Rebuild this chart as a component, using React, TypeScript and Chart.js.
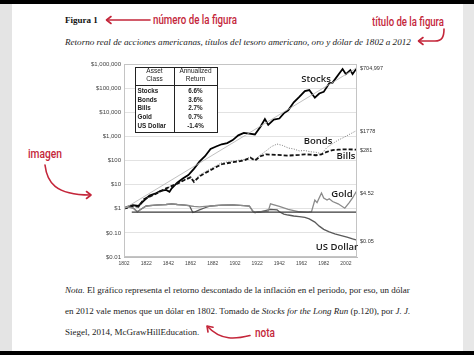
import React, { useEffect, useLayoutEffect, useRef } from 'react';
import { Chart, registerables } from 'chart.js';

Chart.register(...registerables);

// ---------- data ----------
const stockYears = [1802,1805,1810,1815,1820,1825,1830,1835,1840,1843,1845,1850,1855,1860,1865,1870,1875,1880,1885,1890,1895,1900,1905,1910,1915,1920,1925,1929,1932,1937,1942,1946,1950,1955,1960,1965,1969,1974,1978,1982,1987,1990,1995,1999,2002,2006,2008,2012];
const stockValues = [1,1.2,1.4,1.3,2.2,3.5,4.2,5.5,6,5,7,12,18,25,45,90,150,300,380,470,530,700,1100,1400,1300,1200,2500,5200,3000,5000,5500,9000,12000,26000,43000,75000,83000,40000,60000,70000,160000,170000,350000,620000,380000,560000,380000,704997];

const trendYears = [1802, 2012];
const trendValues = [1, 704997];

const fixedYears = [1809, 2012];
const fixedValues = [0.72, 0.72];

const bondBillYears = [1802,1810,1815,1820,1830,1840,1850,1857,1862,1865,1870,1880,1890,1900,1910,1916,1920,1925,1930,1935,1940,1945,1950,1955,1960,1965,1970,1975,1980,1985,1990,1995,2000,2005,2012];
const bondValues = [1,1.3,1.2,2.5,4,7,11,16,22,14,25,45,80,95,110,140,110,170,250,380,480,420,330,300,250,260,230,220,190,350,500,700,900,1200,1778];
const billValues = [1,1.3,1.2,2.5,4,7,11,16,20,13,22,40,70,85,100,130,100,150,180,175,170,165,160,165,170,180,175,165,180,230,270,280,290,290,281];

const goldYears = [1802,1805,1810,1814,1818,1822,1830,1840,1845,1850,1857,1862,1865,1870,1875,1880,1890,1900,1910,1915,1918,1920,1925,1932,1934,1942,1950,1960,1968,1971,1974,1976,1980,1982,1985,1987,1990,1995,2001,2005,2008,2011,2012];
const goldValues = [1.1,1.2,1.1,0.75,1.0,1.3,1.4,1.5,1.6,1.5,1.4,1.3,1.25,1.2,1.25,1.3,1.4,1.45,1.35,1.3,0.8,0.7,0.75,0.8,1.6,1.25,0.95,0.75,0.72,0.75,2.3,1.8,4.5,2.8,2.3,2.6,2.0,1.6,1.05,1.8,2.8,4.9,4.52];

const dollarYears = [1802,1805,1810,1814,1818,1822,1830,1840,1845,1850,1857,1861,1864,1866,1870,1875,1880,1890,1900,1910,1915,1918,1920,1925,1932,1934,1940,1942,1946,1950,1955,1960,1965,1969,1974,1978,1982,1987,1992,1997,2003,2008,2012];
const dollarValues = [1.1,1.2,1.1,0.75,1.0,1.3,1.4,1.5,1.6,1.5,1.4,1.35,0.7,0.75,0.9,1.1,1.3,1.4,1.45,1.35,1.3,0.8,0.7,0.75,0.9,0.95,0.9,0.75,0.6,0.55,0.5,0.47,0.44,0.38,0.28,0.19,0.14,0.11,0.09,0.078,0.066,0.056,0.05];

const xTicks = [1802,1822,1842,1862,1882,1902,1922,1942,1962,1982,2002];
const yTicks = [0.01,0.1,1,10,100,1000,10000,100000,1000000];
const yTickLabels = ['$0.01','$0.10','$1','$10','$100','$1,000','$10,000','$100,000','$1,000,000'];

const endLabels = ['$704,997','$1778','$281','$4.52','$0.05'];
const endValues = [704997, 1778, 281, 4.52, 0.05];

const tableHeader = [['Asset', 'Class'], ['Annualized', 'Return']];
const tableAssets = ['Stocks','Bonds','Bills','Gold','US Dollar'];
const tableReturns = ['6.6%','3.6%','2.7%','0.7%','-1.4%'];

const RED = '#c4263a';

function pts(xs: number[], ys: number[]) {
  return xs.map((x, i) => ({ x, y: ys[i] }));
}

const overlayPlugin = {
  id: 'overlay',
  afterDatasetsDraw(chart: any) {
    const { ctx, chartArea: a, scales } = chart;
    ctx.save();
    ctx.strokeStyle = '#c4c4c4';
    ctx.lineWidth = 1;
    ctx.strokeRect(a.left + 0.5, a.top + 0.5, a.right - a.left - 1, a.bottom - a.top - 1);

    ctx.fillStyle = '#333';
    ctx.font = '5.5px "Liberation Sans", Arial, sans-serif';
    ctx.textAlign = 'left';
    ctx.textBaseline = 'middle';
    endLabels.forEach((t, i) => {
      const y = scales.y.getPixelForValue(endValues[i]);
      ctx.fillText(t, a.right + 3, y + 1);
    });

    ctx.fillStyle = '#1a1a1a';
    ctx.font = '600 9.5px "Open Sans", sans-serif';
    ctx.textAlign = 'center';
    const names: [string, number, number][] = [
      ['Stocks', 256, 24],
      ['Bonds', 258, 86],
      ['Bills', 286, 101],
      ['Gold', 282, 139],
      ['US Dollar', 277, 192],
    ];
    names.forEach(([t, x, y]) => ctx.fillText(t, x, y));

    const tx = 75, ty = 12, tw = 82, th = 65, div = 114, hdr = 30;
    ctx.fillStyle = '#fff';
    ctx.fillRect(tx, ty, tw, th);
    ctx.strokeStyle = '#222';
    ctx.lineWidth = 1;
    ctx.strokeRect(tx + 0.5, ty + 0.5, tw, th);
    ctx.beginPath();
    ctx.moveTo(div + 0.5, ty); ctx.lineTo(div + 0.5, ty + th);
    ctx.moveTo(tx, hdr + 0.5); ctx.lineTo(tx + tw, hdr + 0.5);
    ctx.stroke();
    ctx.fillStyle = '#222';
    ctx.font = '6.5px "Liberation Sans", Arial, sans-serif';
    ctx.textAlign = 'center';
    const c1 = (tx + div) / 2, c2 = (div + tx + tw) / 2;
    ctx.fillText(tableHeader[0][0], c1, 16.5);
    ctx.fillText(tableHeader[0][1], c1, 24.5);
    ctx.fillText(tableHeader[1][0], c2, 16.5);
    ctx.fillText(tableHeader[1][1], c2, 24.5);
    ctx.font = 'bold 6.3px "Liberation Sans", Arial, sans-serif';
    tableAssets.forEach((t, i) => {
      const y = 36 + i * 8.8;
      ctx.textAlign = 'left';
      ctx.fillText(t, tx + 2.5, y);
      ctx.textAlign = 'center';
      ctx.fillText(tableReturns[i], c2, y);
    });
    ctx.restore();
  },
};

function ChartCanvas() {
  const ref = useRef<HTMLCanvasElement | null>(null);
  useEffect(() => {
    if (!ref.current) return;
    const chart = new Chart(ref.current, {
      type: 'line',
      data: {
        datasets: [
          { label: 'trend', data: pts(trendYears, trendValues), borderColor: '#b0b0b0', borderWidth: 0.8, pointRadius: 0, tension: 0 },
          { label: 'fixed', data: pts(fixedYears, fixedValues), borderColor: '#3a3a3a', borderWidth: 1.3, pointRadius: 0 },
          { label: 'Gold', data: pts(goldYears, goldValues), borderColor: '#8a8a8a', borderWidth: 1.3, pointRadius: 0 },
          { label: 'US Dollar', data: pts(dollarYears, dollarValues), borderColor: '#5a5a5a', borderWidth: 1.3, pointRadius: 0 },
          { label: 'Bills', data: pts(bondBillYears, billValues), borderColor: '#111', borderWidth: 1.8, borderDash: [4, 2], pointRadius: 0 },
          { label: 'Bonds', data: pts(bondBillYears, bondValues), borderColor: '#777', borderWidth: 1, borderDash: [1, 1.5], pointRadius: 0 },
          { label: 'Stocks', data: pts(stockYears, stockValues), borderColor: '#000', borderWidth: 1.8, pointRadius: 0 },
        ],
      },
      options: {
        responsive: false,
        animation: false,
        layout: { padding: { left: 0, top: 9, right: 53, bottom: 0 } },
        plugins: { legend: { display: false }, tooltip: { enabled: false } },
        scales: {
          x: {
            type: 'linear',
            min: 1802,
            max: 2012,
            afterBuildTicks: (s: any) => { s.ticks = xTicks.map((v) => ({ value: v })); },
            afterFit: (s: any) => { s.height = 18; },
            ticks: {
              autoSkip: false,
              maxRotation: 0,
              padding: 4,
              color: '#444',
              font: { size: 5, family: '"Liberation Sans", Arial, sans-serif' },
              callback: (v: any) => String(v),
            },
            grid: { display: false, drawTicks: false },
            border: { color: '#bdbdbd' },
          },
          y: {
            type: 'logarithmic',
            min: 0.01,
            max: 1000000,
            afterBuildTicks: (s: any) => { s.ticks = yTicks.map((v) => ({ value: v })); },
            afterFit: (s: any) => { s.width = 64; },
            ticks: {
              autoSkip: false,
              padding: 3,
              color: '#444',
              font: { size: 6, family: '"Liberation Sans", Arial, sans-serif' },
              callback: (_v: any, i: number) => yTickLabels[i],
            },
            grid: { color: '#e2e2e2', drawTicks: false },
            border: { color: '#bdbdbd' },
          },
        },
      },
      plugins: [overlayPlugin],
    } as any);
    return () => chart.destroy();
  }, []);
  return (
    <canvas
      ref={ref}
      width={350}
      height={220}
      style={{ position: 'absolute', left: 60, top: 55, width: 350, height: 220 }}
    />
  );
}

function RedLabel({ text, left, top, width }: { text: string; left: number; top: number; width: number }) {
  const ref = useRef<HTMLSpanElement | null>(null);
  useLayoutEffect(() => {
    const el = ref.current;
    if (!el) return;
    el.style.transform = 'none';
    const w = el.getBoundingClientRect().width;
    if (w > 0) el.style.transform = `scaleX(${width / w})`;
  }, [text, width]);
  return (
    <span
      ref={ref}
      style={{
        position: 'absolute', left, top, display: 'inline-block', whiteSpace: 'nowrap',
        transformOrigin: '0 0', fontFamily: 'Roboto, "Open Sans", sans-serif', fontWeight: 500,
        fontSize: 12.5, lineHeight: '14px', color: RED,
      }}
    >
      {text}
    </span>
  );
}

const serif = '"Liberation Serif", "Times New Roman", serif';

export default function App() {
  const lineStyle: React.CSSProperties = {
    position: 'absolute',
    left: 65,
    width: 340,
    fontFamily: serif,
    fontSize: 9,
    lineHeight: '11px',
    color: '#222',
    whiteSpace: 'nowrap',
    textAlign: 'justify',
    textAlignLast: 'justify' as any,
  };
  return (
    <div style={{ position: 'fixed', left: 0, top: 0, width: 474, height: 355, background: '#fff', overflow: 'hidden' }}>
      <div style={{ position: 'absolute', left: 0, top: 0, width: 474, height: 4, background: '#000' }} />
      <div style={{ position: 'absolute', left: 0, top: 351, width: 474, height: 4, background: '#000' }} />
      <div style={{ position: 'absolute', left: 0, top: 4, width: 12, height: 347, background: '#e4e4e4' }} />
      <div style={{ position: 'absolute', left: 463, top: 4, width: 11, height: 347, background: '#e7e7e7' }} />

      <div style={{ position: 'absolute', left: 65, top: 14.5, fontFamily: serif, fontWeight: 'bold', fontSize: 9, lineHeight: '11px', color: '#111' }}>Figura 1</div>
      <RedLabel text="número de la figura" left={153} top={13} width={84} />
      <RedLabel text="título de la figura" left={372} top={15} width={72} />
      <div style={{ position: 'absolute', left: 65, top: 36.5, fontFamily: serif, fontStyle: 'italic', fontSize: 9.1, lineHeight: '11px', color: '#222', whiteSpace: 'nowrap' }}>
        Retorno real de acciones americanas, títulos del tesoro americano, oro y dólar de 1802 a 2012
      </div>
      <RedLabel text="imagen" left={28} top={147} width={34} />

      <ChartCanvas />

      <div style={{ ...lineStyle, top: 284.5 }}>
        <i>Nota.</i> El gráfico representa el retorno descontado de la inflación en el periodo, por eso, un dólar
      </div>
      <div style={{ ...lineStyle, top: 306 }}>
        en 2012 vale menos que un dólar en 1802. Tomado de <i>Stocks for the Long Run</i> (p.120), por <i>J. J.</i>
      </div>
      <div style={{ ...lineStyle, top: 326.5, width: 'auto', textAlignLast: 'auto' as any }}>
        Siegel, 2014, McGrawHillEducation.
      </div>
      <RedLabel text="nota" left={255} top={325.5} width={20} />

      <svg width={474} height={355} style={{ position: 'absolute', left: 0, top: 0, pointerEvents: 'none' }}>
        <g fill="none" stroke={RED} strokeWidth={1.6} strokeLinecap="round" strokeLinejoin="round">
          <path d="M150,20 L107,20" />
          <polyline points="111,16.5 106.5,20 111,23.5" />
          <path d="M444,29 C444,37 442,41 435,41 L419,41" />
          <polyline points="423,37.5 418.5,41 423,44.5" />
          <path d="M45,165 C47,182 55,195 90,195" />
          <polyline points="86.5,191.5 91,195 86.5,198.5" />
          <path d="M250,335.5 C236,339 221,341 207.5,326.5" />
          <polyline points="213,327.3 207,326 208,332" />
        </g>
      </svg>
    </div>
  );
}
